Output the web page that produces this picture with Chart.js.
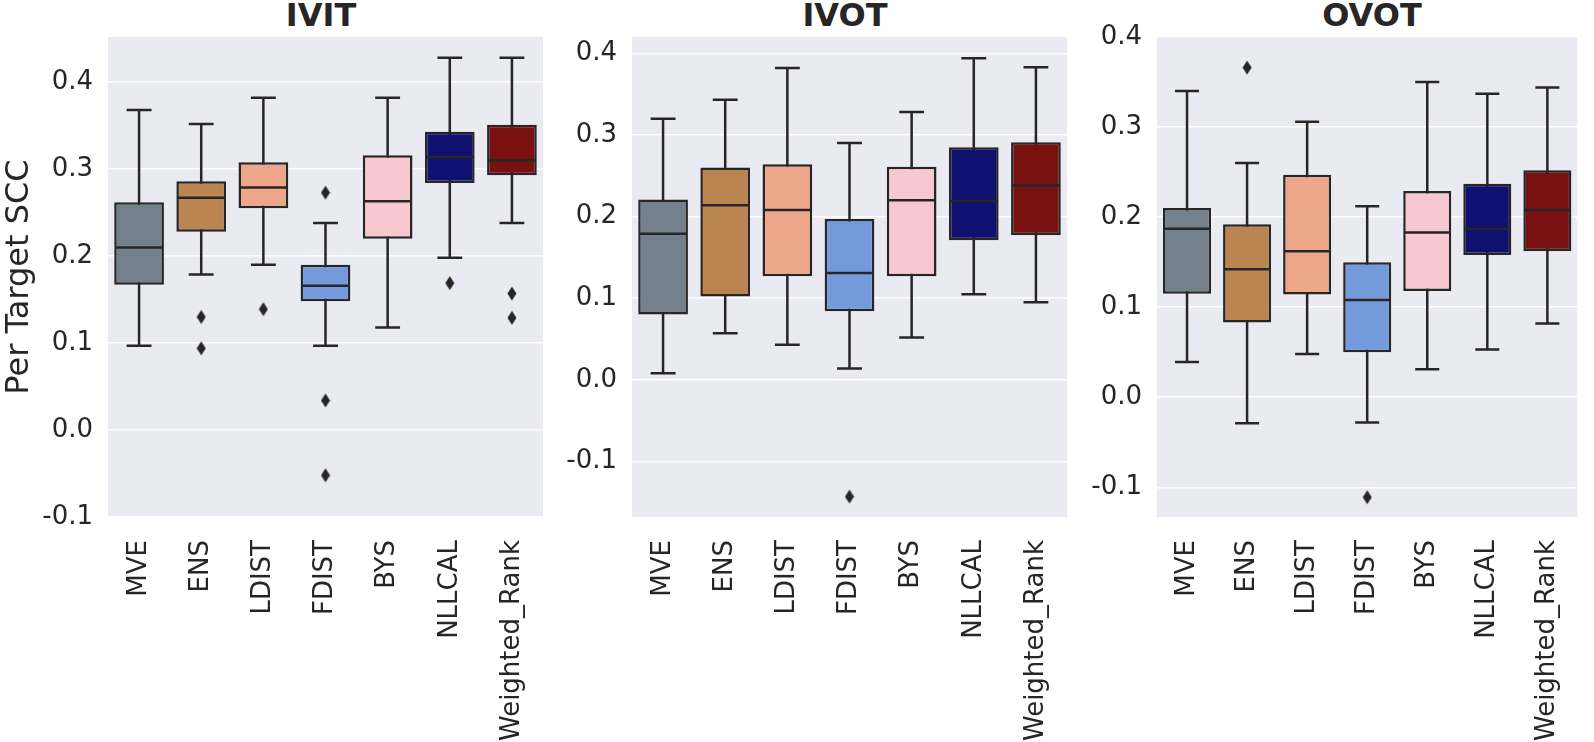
<!DOCTYPE html>
<html>
<head>
<meta charset="utf-8">
<script src="https://cdn.jsdelivr.net/npm/chart.js@4.4.1/dist/chart.umd.min.js"></script>
<style>
  body { margin: 0; background: #fff; width: 1594px; height: 742px; position: relative; overflow: hidden; }
  canvas { position: absolute; top: 0; }
  .title { position: absolute; top: -1px; font: bold 32px/32px 'DejaVu Sans'; color: #262626; transform: translateX(-50%); white-space: nowrap; }
</style>
</head>
<body>
<div class="title" style="left:321px">IVIT</div>
<div class="title" style="left:845px">IVOT</div>
<div class="title" style="left:1372px">OVOT</div>
<canvas id="ivit" width="565" height="742" style="left:0px"></canvas>
<canvas id="ivot" width="530" height="742" style="left:560px"></canvas>
<canvas id="ovot" width="509" height="742" style="left:1085px"></canvas>
<script>
// categories, colours and tick labels
const categories = ['MVE', 'ENS', 'LDIST', 'FDIST', 'BYS', 'NLLCAL', 'Weighted_Rank'];
const boxColors = ['#74808C', '#BB8551', '#EEA78B', '#759ADC', '#F7C8D0', '#101070', '#7A1111'];
const yTicks = [-0.1, 0.0, 0.1, 0.2, 0.3, 0.4];
const lineColor = '#262626';

// IVIT
const ivitLow  = [0.097, 0.179, 0.190, 0.097, 0.118, 0.198, 0.238];
const ivitQ1   = [0.167, 0.228, 0.255, 0.148, 0.220, 0.284, 0.293];
const ivitMed  = [0.210, 0.267, 0.279, 0.166, 0.263, 0.314, 0.310];
const ivitQ3   = [0.262, 0.286, 0.308, 0.190, 0.316, 0.343, 0.351];
const ivitHigh = [0.368, 0.352, 0.382, 0.238, 0.382, 0.428, 0.428];
const ivitOut  = [[], [0.130, 0.094], [0.139], [0.273, 0.034, -0.052], [], [0.169], [0.157, 0.129]];

// IVOT
const ivotLow  = [0.008, 0.057, 0.043, 0.014, 0.052, 0.105, 0.095];
const ivotQ1   = [0.080, 0.102, 0.127, 0.084, 0.127, 0.171, 0.177];
const ivotMed  = [0.179, 0.214, 0.208, 0.131, 0.220, 0.219, 0.238];
const ivotQ3   = [0.221, 0.260, 0.264, 0.197, 0.261, 0.285, 0.291];
const ivotHigh = [0.320, 0.343, 0.382, 0.290, 0.328, 0.394, 0.383];
const ivotOut  = [[], [], [], [-0.143], [], [], []];

// OVOT
const ovotLow  = [0.039, -0.029, 0.048, -0.028, 0.031, 0.053, 0.082];
const ovotQ1   = [0.115, 0.083, 0.114, 0.050, 0.118, 0.158, 0.162];
const ovotMed  = [0.187, 0.142, 0.162, 0.108, 0.183, 0.187, 0.208];
const ovotQ3   = [0.210, 0.192, 0.247, 0.150, 0.229, 0.237, 0.252];
const ovotHigh = [0.340, 0.260, 0.306, 0.212, 0.350, 0.337, 0.344];
const ovotOut  = [[], [0.366], [], [-0.111], [], [], []];

Chart.defaults.font.family = "'DejaVu Sans'";
Chart.defaults.color = lineColor;

// thin diamond marker for the outliers
const diamond = document.createElement('canvas');
diamond.width = 10;
diamond.height = 15;
const dctx = diamond.getContext('2d');
dctx.fillStyle = lineColor;
dctx.beginPath();
dctx.moveTo(5, 0.5);
dctx.lineTo(9.5, 7.5);
dctx.lineTo(5, 14.5);
dctx.lineTo(0.5, 7.5);
dctx.closePath();
dctx.fill();

//whiskers, caps, medians and the grey plot background
const boxWhiskers = {
    id: 'boxWhiskers',
    beforeDraw(chart) {
        const {ctx, chartArea: a} = chart;
        ctx.save();
        ctx.fillStyle = '#EAEAF2';
        ctx.fillRect(a.left, a.top, a.right - a.left, a.bottom - a.top);
        ctx.restore();
    },
    beforeDatasetsDraw(chart, args, opts) {
        const {ctx, scales: {x, y}} = chart;
        const bars = chart.getDatasetMeta(0).data;
        ctx.save();
        ctx.strokeStyle = lineColor;
        ctx.lineWidth = 2.5;
        bars.forEach((bar, i) => {
            const cx = x.getPixelForValue(i);
            const cap = bar.width / 4;
            const yLow = y.getPixelForValue(opts.low[i]);
            const yHigh = y.getPixelForValue(opts.high[i]);
            ctx.beginPath();
            ctx.moveTo(cx, yLow);
            ctx.lineTo(cx, yHigh);
            ctx.moveTo(cx - cap, yLow);
            ctx.lineTo(cx + cap, yLow);
            ctx.moveTo(cx - cap, yHigh);
            ctx.lineTo(cx + cap, yHigh);
            ctx.stroke();
        });
        ctx.restore();
    },
    afterDatasetsDraw(chart, args, opts) {
        const {ctx, scales: {x, y}} = chart;
        const bars = chart.getDatasetMeta(0).data;
        ctx.save();
        ctx.strokeStyle = lineColor;
        ctx.lineWidth = 2.5;
        bars.forEach((bar, i) => {
            const cx = x.getPixelForValue(i);
            const ym = y.getPixelForValue(opts.median[i]);
            ctx.beginPath();
            ctx.moveTo(cx - bar.width / 2 + 1, ym);
            ctx.lineTo(cx + bar.width / 2 - 1, ym);
            ctx.stroke();
        });
        ctx.restore();
    }
};

function makeChart(id, yMin, yMax, yWidth, padRight, yTitle, low, q1, median, q3, high, outliers) {
    const boxes = q1.map((v, i) => [v, q3[i]]);
    const points = [];
    outliers.forEach((vals, i) => vals.forEach((v) => points.push({x: categories[i], y: v})));

    new Chart(document.getElementById(id), {
        type: 'bar',
        data: {
            labels: categories,
            datasets: [{
                data: boxes,
                backgroundColor: boxColors,
                borderColor: lineColor,
                borderWidth: 2.5,
                borderSkipped: false,
                categoryPercentage: 1,
                barPercentage: 0.8
            },
            {
                type: 'line',
                data: points,
                showLine: false,
                pointStyle: diamond,
                pointRadius: 5
            }]
        },
        options: {
            responsive: false,
            animation: false,
            layout: { padding: { top: 37, bottom: 0, left: 0, right: padRight } },
            plugins: {
                legend: { display: false },
                tooltip: { enabled: false },
                boxWhiskers: { low: low, median: median, high: high }
            },
            scales: {
                x: {
                    grid: { display: false },
                    border: { display: false },
                    ticks: { minRotation: 90, maxRotation: 90, autoSkip: false, padding: 15, font: { size: 26 } },
                    afterFit: (scale) => { scale.height = 225; }
                },
                y: {
                    min: yMin,
                    max: yMax,
                    grid: { color: '#FFFFFF', lineWidth: 1.5, drawTicks: false },
                    border: { display: false },
                    ticks: { padding: 15, font: { size: 26 }, callback: (v) => v.toFixed(1) },
                    afterBuildTicks: (scale) => {
                        scale.ticks = yTicks.filter((v) => v >= yMin - 1e-9 && v <= yMax + 1e-9).map((v) => ({value: v}));
                    },
                    title: {
                        display: yTitle !== '',
                        text: yTitle,
                        font: { size: 32 },
                        padding: { top: 0, bottom: 0 }
                    },
                    afterFit: (scale) => { scale.width = yWidth; }
                }
            }
        },
        plugins: [boxWhiskers]
    });
}

makeChart('ivit', -0.1, 0.452, 108, 22, 'Per Target SCC', ivitLow, ivitQ1, ivitMed, ivitQ3, ivitHigh, ivitOut);
makeChart('ivot', -0.168, 0.420, 72, 23, '', ivotLow, ivotQ1, ivotMed, ivotQ3, ivotHigh, ivotOut);
makeChart('ovot', -0.133, 0.400, 72, 2, '', ovotLow, ovotQ1, ovotMed, ovotQ3, ovotHigh, ovotOut);
</script>
</body>
</html>
